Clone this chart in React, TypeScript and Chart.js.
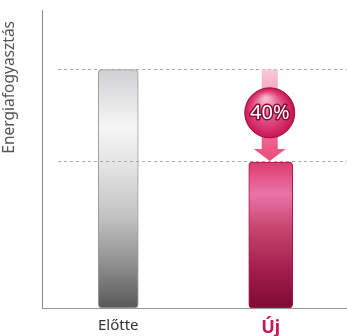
import React, { useEffect, useRef } from "react";
import { Chart, registerables } from "chart.js";
Chart.register(...registerables);

const categories = ["Előtte", "Új"];
const beforeValues: (number | null)[] = [80, null];
const afterValues: (number | null)[] = [null, 49];
const reductionLabel = "40%";
const yTitle = "Energiafogyasztás";
const yMin = 0;
const yMax = 100;

const FONT = "'Noto Sans', sans-serif";

function grayGradient(c: any) {
  const ch = c.chart;
  if (!ch.chartArea) return "#cccccc";
  const y = ch.scales.y;
  const top = y.getPixelForValue(beforeValues[0] as number);
  const bot = y.getPixelForValue(0);
  const g = ch.ctx.createLinearGradient(0, top, 0, bot);
  g.addColorStop(0, "#cfd0d2");
  g.addColorStop(0.24, "#f6f6f6");
  g.addColorStop(0.4, "#e4e4e4");
  g.addColorStop(0.62, "#c2c2c2");
  g.addColorStop(0.82, "#8e8e8e");
  g.addColorStop(1, "#58585a");
  return g;
}

function pinkGradient(c: any) {
  const ch = c.chart;
  if (!ch.chartArea) return "#d04070";
  const y = ch.scales.y;
  const top = y.getPixelForValue(afterValues[1] as number);
  const bot = y.getPixelForValue(0);
  const g = ch.ctx.createLinearGradient(0, top, 0, bot);
  g.addColorStop(0, "#e03a6c");
  g.addColorStop(0.22, "#ea74a8");
  g.addColorStop(0.45, "#c8456f");
  g.addColorStop(0.75, "#a11c4c");
  g.addColorStop(1, "#7e0a34");
  return g;
}

const overlay = {
  id: "overlay",
  afterDatasetsDraw(chart: any) {
    const { ctx, chartArea, scales } = chart;
    const x = scales.x;
    const y = scales.y;
    const yTop = y.getPixelForValue(beforeValues[0] as number);
    const yBot = y.getPixelForValue(afterValues[1] as number);
    ctx.save();
    // dashed reference lines
    ctx.setLineDash([3, 3]);
    ctx.strokeStyle = "#a8a8a8";
    ctx.lineWidth = 1;
    for (const py of [yTop, yBot]) {
      const yy = Math.round(py) - 0.5;
      ctx.beginPath();
      ctx.moveTo(58, yy);
      ctx.lineTo(chartArea.right, yy);
      ctx.stroke();
    }
    ctx.setLineDash([]);

    // arrow
    const cx = x.getPixelForValue(1) - 1;
    const headH = 13;
    const headW = 16;
    const shaftW = 8;
    const ag = ctx.createLinearGradient(0, yTop, 0, yBot);
    ag.addColorStop(0, "#f9cbd6");
    ag.addColorStop(0.5, "#f27ea0");
    ag.addColorStop(1, "#ec4a7a");
    ctx.fillStyle = ag;
    ctx.beginPath();
    ctx.moveTo(cx - shaftW, yTop);
    ctx.lineTo(cx + shaftW, yTop);
    ctx.lineTo(cx + shaftW, yBot - headH);
    ctx.lineTo(cx + headW, yBot - headH);
    ctx.lineTo(cx, yBot - 1);
    ctx.lineTo(cx - headW, yBot - headH);
    ctx.lineTo(cx - shaftW, yBot - headH);
    ctx.closePath();
    ctx.fill();

    // badge
    const cy = (yTop + yBot) / 2 - 3;
    const r = 25;
    const rg = ctx.createRadialGradient(cx - 4, cy - 14, 2, cx, cy + 4, r + 6);
    rg.addColorStop(0, "#f8b4cb");
    rg.addColorStop(0.45, "#e04a7e");
    rg.addColorStop(0.8, "#c81352");
    rg.addColorStop(1, "#a80c44");
    ctx.fillStyle = rg;
    ctx.beginPath();
    ctx.arc(cx, cy, r, 0, Math.PI * 2);
    ctx.fill();
    ctx.strokeStyle = "#9a0c3c";
    ctx.lineWidth = 1;
    ctx.stroke();

    ctx.font = `20px ${FONT}`;
    ctx.textAlign = "center";
    ctx.textBaseline = "middle";
    ctx.lineJoin = "round";
    ctx.lineWidth = 3;
    ctx.strokeStyle = "#8a0a36";
    ctx.strokeText(reductionLabel, cx, cy + 1);
    ctx.fillStyle = "#ffffff";
    ctx.fillText(reductionLabel, cx, cy + 1);

    // y axis title
    ctx.save();
    ctx.translate(10, 21);
    ctx.rotate(-Math.PI / 2);
    ctx.textAlign = "right";
    ctx.textBaseline = "middle";
    ctx.font = `15.5px ${FONT}`;
    ctx.fillStyle = "#555555";
    ctx.fillText(yTitle, 0, 0);
    ctx.restore();

    ctx.restore();
  },
};

export default function App() {
  const ref = useRef<HTMLCanvasElement | null>(null);
  useEffect(() => {
    document.body.style.margin = "0";
    const canvas = ref.current;
    if (!canvas) return;
    const chart = new Chart(canvas, {
      type: "bar",
      data: {
        labels: categories,
        datasets: [
          {
            data: beforeValues,
            backgroundColor: grayGradient,
            borderColor: "#9a9a9a",
            borderWidth: 1,
            borderRadius: 4,
            borderSkipped: false,
            barThickness: 40,
            grouped: false,
          } as any,
          {
            data: afterValues,
            backgroundColor: pinkGradient,
            borderColor: "#a8184a",
            borderWidth: 1,
            borderRadius: 4,
            borderSkipped: false,
            barThickness: 44,
            grouped: false,
          } as any,
        ],
      },
      options: {
        animation: false,
        responsive: false,
        layout: { padding: { left: 0, top: 10, right: 0, bottom: 0 } },
        plugins: { legend: { display: false }, tooltip: { enabled: false } },
        scales: {
          x: {
            grid: { display: false, drawTicks: false },
            border: { color: "#999999", width: 1 },
            ticks: {
              padding: 9,
              font: (c: any) =>
                c.index === 1
                  ? { family: FONT, size: 18, weight: "bold" }
                  : { family: FONT, size: 15 },
              color: (c: any) => (c.index === 1 ? "#c8185a" : "#333333"),
            },
            afterFit(s: any) {
              s.height = 28;
            },
          },
          y: {
            min: yMin,
            max: yMax,
            grid: { display: false, drawTicks: false },
            ticks: { display: false },
            border: { color: "#8a8a8a", width: 1 },
            afterFit(s: any) {
              s.width = 42;
            },
          },
        },
      } as any,
      plugins: [overlay],
    });
    return () => chart.destroy();
  }, []);
  return (
    <div style={{ width: 347, height: 336 }}>
      <canvas ref={ref} width={347} height={336} style={{ display: "block" }} />
    </div>
  );
}
